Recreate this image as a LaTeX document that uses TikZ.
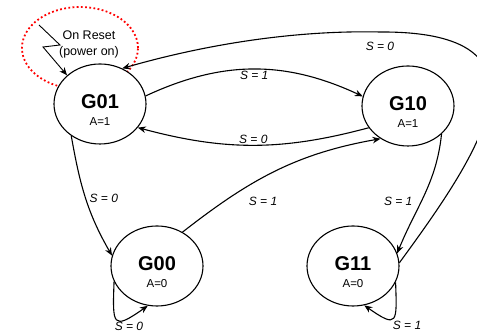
\documentclass[tikz,border=0pt]{standalone}
\usepackage{fontspec}
\setmainfont{Liberation Sans}
\usetikzlibrary{arrows.meta,positioning,shapes.geometric}
\tikzset{
  base/.style={font=\fontsize{12}{14}\selectfont, align=center, inner sep=1.5pt, text=black},
  state/.style={ellipse, draw=black, fill=white, line width=1.1pt, minimum width=92pt, minimum height=80pt, inner sep=0pt},
  sname/.style={base, font=\fontsize{20}{22}\selectfont\bfseries},
  sout/.style={base, font=\fontsize{11.5}{13}\selectfont},
  arr/.style={-{Stealth[length=8pt,width=6.5pt]}, line width=1.1pt, draw=black},
  zaparr/.style={arr, line width=0.9pt},
  lbl/.style={base, font=\fontsize{12}{14}\selectfont\itshape},
  resetring/.style={draw=red, line width=1.8pt, dash pattern=on 1.8pt off 2.4pt},
}

\begin{document}
\begin{tikzpicture}[x=1pt,y=1pt]
  \useasboundingbox (0,0) rectangle (477,336);
  % power-on marker, sits behind G01
  \draw[resetring] (80,288) ellipse [x radius=58pt, y radius=41pt];
  \foreach \n/\x/\y/\a in {01/100/232/1,10/408/230/1,00/157/70/0,11/353/70/0}{
    \node[state] (g\n) at (\x,\y) {};
    \node[sname] (g\n-name) at ([yshift=2pt]g\n.center) {G\n};
    \node[sout] (g\n-out) at ([yshift=-18pt]g\n.center) {A=\a};
  }
  \node[base, font=\fontsize{12.5}{16}\selectfont] (reset) at (89,292) {On Reset\\(power on)};
  \coordinate (zap) at (39,311);
  \draw[zaparr] (zap) -- ++(21,-20) -- ++(-17,-2) -- (g01.north west);
  % transitions
  \draw[arr] (g01.10) to[out=25,in=155] node[lbl,below] (l0110) {S = 1} (g10.168);
  \draw[arr] (g10.209) to[out=195,in=345] node[lbl,above] (l1001) {S = 0} (g01.328);
  \draw[arr] (g01.228) to[out=280,in=120] node[lbl,right=2pt] (l0100) {S = 0} (g00.167);
  \draw[arr] (g00.53) to[out=38,in=190] node[lbl,pos=0.4,below=14pt,xshift=6pt] (l0010) {S = 1} (g10.230);
  \draw[arr] (g10.320) to[out=264,in=68] node[lbl,left=10pt,yshift=-6pt] (l1011) {S = 1} (g11.16);
  \draw[arr] (g11.4) .. controls (485,190) and (560,305) .. (380,304) node[lbl,below=8pt] (l1101) {S = 0}
    .. controls (290,306) and (200,290) .. (g01.58);
  \draw[arr] (g00.200) to[out=268,in=215,looseness=2.7] node[lbl,below=1pt,xshift=12pt] (l0000) {S = 0} (g00.257);
  \draw[arr] (g11.339) to[out=272,in=325,looseness=2.7] node[lbl,below=1pt,xshift=14pt] (l1111) {S = 1} (g11.286);
\end{tikzpicture}
\end{document}
